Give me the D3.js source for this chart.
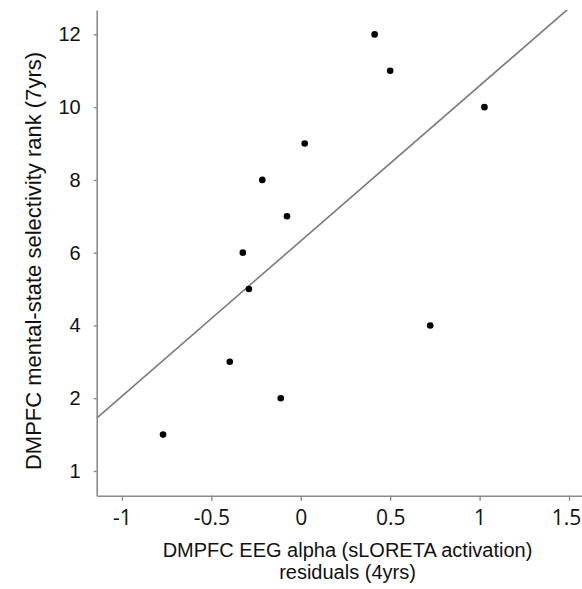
<!DOCTYPE html>
<html>
<head>
<meta charset="utf-8">
<script src="https://cdn.jsdelivr.net/npm/d3@7"></script>
<style>
  html, body { margin: 0; padding: 0; background: #fff; }
  svg { display: block; }
</style>
</head>
<body>
<svg id="chart" width="582" height="589"></svg>
<script>
// ---- Data ----
const alphaResiduals = [-0.770, -0.112, -0.397, 0.724, -0.290, -0.324, -0.077, -0.215, 0.022, 1.027, 0.500, 0.413];
const selectivityRank = [1, 2, 3, 4, 5, 6, 7, 8, 9, 10, 11, 12];
const xTickValues = [-1, -0.5, 0, 0.5, 1, 1.5];
const xTickLabels = ["-1", "-0.5", "0", "0.5", "1", "1.5"];
const yTickValues = [0, 2, 4, 6, 8, 10, 12];
const yTickLabels = ["1", "2", "4", "6", "8", "10", "12"];
const xTitleLines = ["DMPFC EEG alpha (sLORETA activation)", "residuals (4yrs)"];
const yTitle = "DMPFC mental-state selectivity rank (7yrs)";

const points = alphaResiduals.map((x, i) => ({ x, y: selectivityRank[i] }));

(function () {
// ---- Layout ----
const svg = d3.select("#chart");
const pLeft = 96.7, pRight = 582, pTop = 10, pBottom = 495.7;
const axisColor = "#8a8a8a";

const x = d3.scaleLinear().domain([-1.141, 1.5725]).range([pLeft, pRight]);
const y = d3.scaleLinear().domain([-0.68, 12.67]).range([pBottom, pTop]);

svg.append("defs").append("clipPath").attr("id", "plotclip")
  .append("rect").attr("x", pLeft).attr("y", pTop).attr("width", pRight - pLeft).attr("height", pBottom - pTop);

// ---- Regression line (OLS fit of the points) ----
const mx = d3.mean(points, d => d.x), my = d3.mean(points, d => d.y);
const sxy = d3.sum(points, d => (d.x - mx) * (d.y - my));
const sxx = d3.sum(points, d => (d.x - mx) * (d.x - mx));
const slope = sxy / sxx, intercept = my - slope * mx;
const xd = x.domain();
svg.append("line")
  .attr("clip-path", "url(#plotclip)")
  .attr("x1", x(xd[0])).attr("y1", y(intercept + slope * xd[0]))
  .attr("x2", x(xd[1])).attr("y2", y(intercept + slope * xd[1]))
  .attr("stroke", "#7a7a7a").attr("stroke-width", 1.6);

// ---- Axes ----
const xAxis = d3.axisBottom(x).tickValues(xTickValues)
  .tickFormat((d, i) => xTickLabels[i]).tickSizeInner(5).tickSizeOuter(0).tickPadding(9);
const gx = svg.append("g").attr("transform", `translate(0,${pBottom})`).call(xAxis);
gx.select(".domain").attr("stroke", axisColor).attr("stroke-width", 1.6);
gx.selectAll(".tick line").attr("stroke", axisColor).attr("stroke-width", 1.4);
gx.selectAll(".tick text").attr("fill", "#111").style("font-family", "'Open Sans', sans-serif").style("font-size", "21px");
// last label sits slightly left of its tick in the reference
gx.selectAll(".tick text").filter((d, i) => i === xTickValues.length - 1).attr("dx", -3);

const yAxis = d3.axisLeft(y).tickValues(yTickValues)
  .tickFormat((d, i) => yTickLabels[i]).tickSizeInner(3).tickSizeOuter(0).tickPadding(13);
const gy = svg.append("g").attr("transform", `translate(${pLeft},0)`).call(yAxis);
gy.select(".domain").attr("stroke", axisColor).attr("stroke-width", 1.6);
gy.selectAll(".tick line").attr("stroke", axisColor).attr("stroke-width", 1.4);
gy.selectAll(".tick text").attr("fill", "#111").style("font-family", "'Liberation Sans', Arial, sans-serif").style("font-size", "20px");

// ---- Points ----
svg.append("g").selectAll("circle").data(points).join("circle")
  .attr("cx", d => x(d.x)).attr("cy", d => y(d.y)).attr("r", 3.3).attr("fill", "#000");

// ---- Titles ----
svg.append("text")
  .attr("text-anchor", "middle")
  .attr("font-family", "'Liberation Sans', Arial, sans-serif").attr("font-size", 20).attr("fill", "#111")
  .selectAll("tspan").data(xTitleLines).join("tspan")
  .attr("x", 347.5).attr("y", (d, i) => 556.5 + i * 22.5).text(d => d);

svg.append("text")
  .attr("transform", `translate(41,261) rotate(-90)`)
  .attr("text-anchor", "middle")
  .attr("font-family", "'Liberation Sans', Arial, sans-serif").attr("font-size", 22).attr("fill", "#111")
  .text(yTitle);
})();
</script>
</body>
</html>
